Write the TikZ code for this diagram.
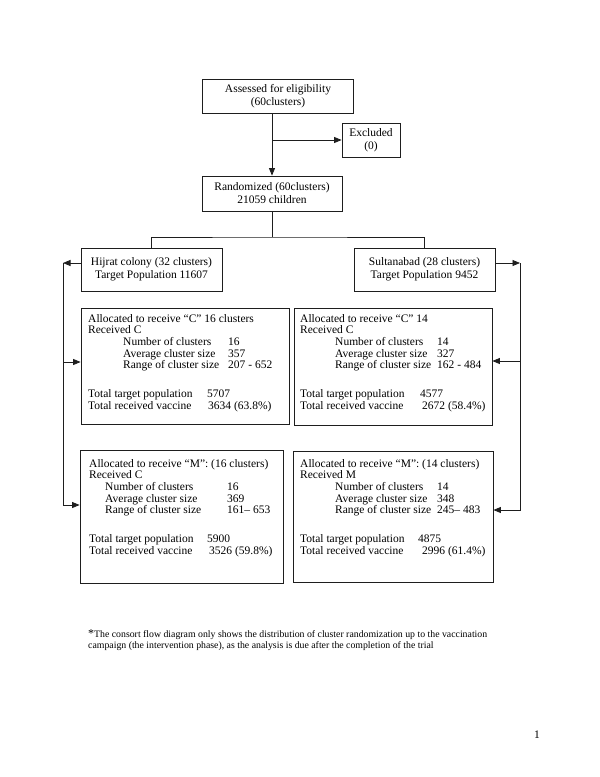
\documentclass[tikz,border=0pt]{standalone}
\usepackage{fontspec}
\setmainfont{Liberation Serif}
\usetikzlibrary{arrows.meta}
\definecolor{linecol}{RGB}{30,30,30}
\tikzset{
  box/.style  = {draw=linecol, line width=0.8pt, rectangle, inner sep=0pt,
                 align=center, font=\fontsize{11.5}{13}\selectfont},
  txt/.style  = {anchor=north west, inner sep=0pt, align=left,
                 font=\fontsize{11.5}{11.7}\selectfont},
  link/.style = {draw=linecol, line width=0.8pt},
  arr/.style  = {link, -{Triangle[length=7.5pt,width=6pt]}}
}

\begin{document}
\begin{tikzpicture}[x=1pt,y=-1pt]
% consort flow of the cluster randomization
\useasboundingbox (0,0) rectangle (600,777);

% eligibility
\node[box, minimum width=151, minimum height=34] (assess) at (278,96)
  {Assessed for eligibility\\(60clusters)};
\node[box, minimum width=58, minimum height=34] (excl) at (371,140)
  {Excluded\\(0)};
\node[box, minimum width=140, minimum height=35] (rand) at (272,193.5)
  {Randomized (60clusters)\\21059 children};
\coordinate (exclbranch) at (272,140);
\draw[arr] (assess.south -| rand) -- (rand.north);
\draw[arr] (exclbranch) -- (excl.west);

% sites
\node[box, minimum width=141, minimum height=43] (hijrat) at (151.5,269.5)
  {Hijrat colony (32 clusters)\\Target Population 11607};
\node[box, minimum width=141, minimum height=43] (sultan) at (424.5,269.5)
  {Sultanabad (28 clusters)\\Target Population 9452};
\coordinate (split) at (272,237);
\draw[link] (rand.south) -- (split);
\draw[link] (hijrat.north) |- (split) -| (sultan.north);

% arm C
\node[box, minimum width=208, minimum height=116] (hijC) at (185,366) {};
\node[txt] (hijCtxt) at (88,314)
  {Allocated to receive “C” 16 clusters\\
   Received C\\
   \hspace*{35pt}\makebox[105pt][l]{Number of clusters}16\\
   \hspace*{35pt}\makebox[105pt][l]{Average cluster size}357\\
   \hspace*{35pt}\makebox[105pt][l]{Range of cluster size}207 - 652\\[17pt]
   \makebox[119pt][l]{Total target population}5707\\
   \makebox[120pt][l]{Total received vaccine}3634 (63.8\%)};
\node[box, minimum width=198, minimum height=117] (sulC) at (393,366.5) {};
\node[txt] (sulCtxt) at (300,314)
  {Allocated to receive “C” 14\\
   Received C\\
   \hspace*{35pt}\makebox[102pt][l]{Number of clusters}14\\
   \hspace*{35pt}\makebox[102pt][l]{Average cluster size}327\\
   \hspace*{35pt}\makebox[102pt][l]{Range of cluster size}162 - 484\\[17pt]
   \makebox[120pt][l]{Total target population}4577\\
   \makebox[122pt][l]{Total received vaccine}2672 (58.4\%)};

% arm M
\node[box, minimum width=203, minimum height=133] (hijM) at (181.5,516.5) {};
\node[txt] (hijMtxt) at (89,459)
  {Allocated to receive “M”: (16 clusters)\\
   Received C\\
   \hspace*{16pt}\makebox[122pt][l]{Number of clusters}16\\
   \hspace*{16pt}\makebox[122pt][l]{Average cluster size}369\\
   \hspace*{16pt}\makebox[122pt][l]{Range of cluster size}161– 653\\[17pt]
   \makebox[118pt][l]{Total target population}5900\\
   \makebox[120pt][l]{Total received vaccine}3526 (59.8\%)};
\node[box, minimum width=200, minimum height=131] (sulM) at (393,516.5) {};
\node[txt] (sulMtxt) at (300,459)
  {Allocated to receive “M”: (14 clusters)\\
   Received M\\
   \hspace*{35pt}\makebox[102pt][l]{Number of clusters}14\\
   \hspace*{35pt}\makebox[102pt][l]{Average cluster size}348\\
   \hspace*{35pt}\makebox[102pt][l]{Range of cluster size}245– 483\\[17pt]
   \makebox[118pt][l]{Total target population}4875\\
   \makebox[122pt][l]{Total received vaccine}2996 (61.4\%)};

% side connectors
\coordinate (lbus) at (63,263);
\coordinate (lC) at (63,362);
\coordinate (lM) at (63,505);
\coordinate (rbus) at (520,263);
\coordinate (rC) at (520,361);
\coordinate (rM) at (520,510);
\draw[arr] (hijrat.west |- lbus) -- (lbus);
\draw[arr] (lbus) |- (lM -| hijM.west);
\draw[arr] (lC) -- (lC -| hijC.west);
\draw[arr] (sultan.east |- rbus) -- (rbus);
\draw[arr] (rbus) |- (rM -| sulM.east);
\draw[arr] (rC) -- (rC -| sulC.east);

% footnote
\node[anchor=north west, inner sep=0pt, align=left,
      font=\fontsize{9.8}{11}\selectfont] (note) at (88,629)
  {{\fontsize{12}{12}\selectfont *}The consort flow diagram only shows the distribution of cluster randomization up to the vaccination\\
   campaign (the intervention phase), as the analysis is due after the completion of the trial};
\node[font=\fontsize{11.5}{12}\selectfont, inner sep=0pt] (pagenum) at (537,735) {1};

\end{tikzpicture}
\end{document}
